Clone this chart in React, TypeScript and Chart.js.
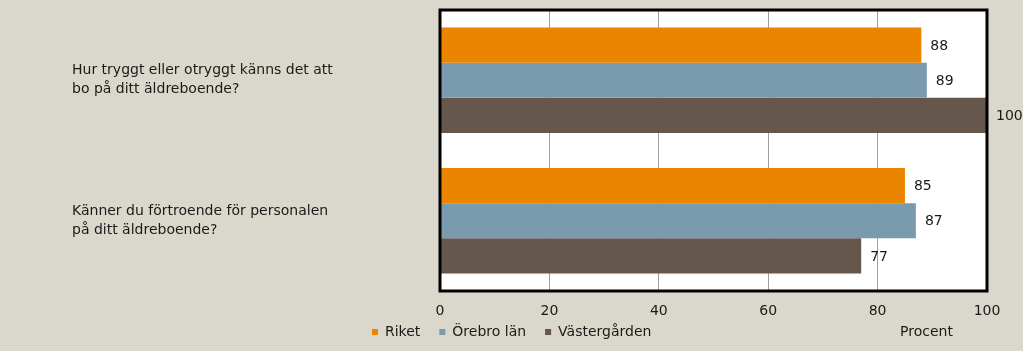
import { useEffect, useRef } from "react";
import { Chart, registerables } from "chart.js";

Chart.register(...registerables);

const categories: string[][] = [
  ["Hur tryggt eller otryggt känns det att", "bo på ditt äldreboende?"],
  ["Känner du förtroende för personalen", "på ditt äldreboende?"],
];
const seriesNames = ["Riket", "Örebro län", "Västergården"];
const riket = [88, 85];
const orebroLan = [89, 87];
const vastergarden = [100, 77];
const xTicks = [0, 20, 40, 60, 80, 100];
const axisTitle = "Procent";

const colors = ["#EB8500", "#7A9AAD", "#65574C"];
const bgColor = "#DAD7CC";
const FONT = "'DejaVu Sans', sans-serif";

export default function App() {
  const ref = useRef<HTMLCanvasElement | null>(null);

  useEffect(() => {
    if (!ref.current) return;
    const decor = {
      id: "decor",
      beforeDraw(chart: any) {
        const { ctx, chartArea: a, width, height } = chart;
        ctx.save();
        ctx.fillStyle = bgColor;
        ctx.fillRect(0, 0, width, height);
        ctx.fillStyle = "#FFFFFF";
        ctx.fillRect(a.left, a.top, a.right - a.left, a.bottom - a.top);
        ctx.restore();
      },
      afterDatasetsDraw(chart: any) {
        const { ctx } = chart;
        ctx.save();
        ctx.font = `14px ${FONT}`;
        ctx.fillStyle = "#1A1A1A";
        ctx.textAlign = "left";
        ctx.textBaseline = "middle";
        chart.data.datasets.forEach((ds: any, i: number) => {
          const meta = chart.getDatasetMeta(i);
          meta.data.forEach((el: any, j: number) => {
            ctx.fillText(String(ds.data[j]), el.x + 9, el.y + 1);
          });
        });
        ctx.restore();
      },
      afterDraw(chart: any) {
        const { ctx, chartArea: a } = chart;
        ctx.save();
        ctx.strokeStyle = "#000000";
        ctx.lineWidth = 3;
        ctx.strokeRect(a.left, a.top, a.right - a.left, a.bottom - a.top);
        // legend
        ctx.font = `14px ${FONT}`;
        ctx.textBaseline = "middle";
        ctx.textAlign = "left";
        let x = 372;
        const y = 332;
        chart.data.datasets.forEach((ds: any) => {
          ctx.fillStyle = ds.backgroundColor;
          ctx.fillRect(x, y - 3, 6, 6);
          ctx.fillStyle = "#1A1A1A";
          ctx.fillText(ds.label, x + 13, y);
          x += 13 + ctx.measureText(ds.label).width + 19;
        });
        ctx.fillText(axisTitle, 900, y);
        ctx.restore();
      },
    };

    const chart = new Chart(ref.current, {
      type: "bar",
      data: {
        labels: categories,
        datasets: [
          { label: seriesNames[0], data: riket, backgroundColor: colors[0] },
          { label: seriesNames[1], data: orebroLan, backgroundColor: colors[1] },
          { label: seriesNames[2], data: vastergarden, backgroundColor: colors[2] },
        ],
      },
      options: {
        indexAxis: "y",
        animation: false,
        responsive: true,
        maintainAspectRatio: false,
        layout: { padding: { left: 72, right: 36, top: 10, bottom: 0 } },
        datasets: { bar: { categoryPercentage: 0.75, barPercentage: 1 } },
        plugins: { legend: { display: false }, tooltip: { enabled: false } },
        scales: {
          x: {
            min: 0,
            max: 100,
            afterBuildTicks: (s: any) => {
              s.ticks = xTicks.map((v) => ({ value: v }));
            },
            afterFit: (s: any) => {
              s.height = 60;
              s.paddingLeft = 0;
              s.paddingRight = 0;
            },
            grid: { color: "#A0A0A0", lineWidth: 1, drawTicks: false },
            border: { display: false },
            ticks: {
              padding: 12,
              color: "#1A1A1A",
              font: { family: FONT, size: 14 },
            },
          },
          y: {
            afterFit: (s: any) => {
              s.width = 368;
              s.paddingTop = 0;
              s.paddingBottom = 0;
            },
            grid: { display: false, drawTicks: false },
            border: { display: false },
            ticks: {
              crossAlign: "far",
              color: "#1A1A1A",
              font: { family: FONT, size: 14, lineHeight: 1.35 },
            },
          },
        },
      },
      plugins: [decor],
    } as any);
    return () => chart.destroy();
  }, []);

  return (
    <div
      style={{
        position: "fixed",
        left: 0,
        top: 0,
        width: 1023,
        height: 351,
        background: bgColor,
      }}
    >
      <canvas ref={ref} />
    </div>
  );
}
